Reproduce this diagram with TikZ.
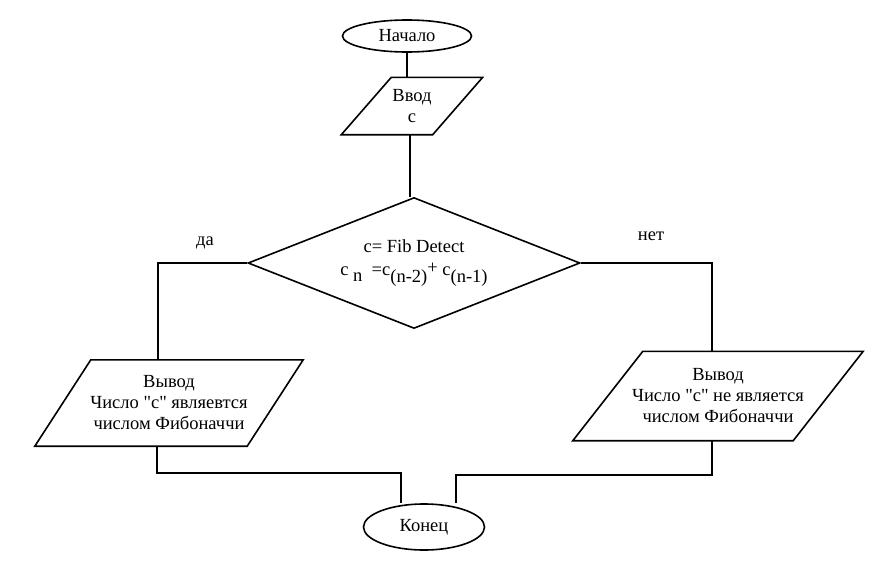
\documentclass[tikz,border=0pt]{standalone}
\usepackage{fontspec}
\setmainfont{Liberation Serif}
\usetikzlibrary{shapes.geometric}

\tikzset{
    flow/.style={line width=1.6pt},
    term/.style={ellipse, draw, line width=1.6pt, inner sep=0pt},
    iotext/.style={inner sep=0pt, align=center},
    decide/.style={diamond, draw, line width=1.6pt, inner sep=0pt, aspect=2.5,
        minimum width=332pt, minimum height=131pt, align=center},
}
% parallelogram round a named text node: #1 node, #2 shift
\newcommand{\iobox}[2]{%
    \draw[flow] ([xshift=#2]#1.north west) -- ([xshift=#2]#1.north east)
        -- ([xshift=-#2]#1.south east) -- ([xshift=-#2]#1.south west) -- cycle;}

\begin{document}
\begin{tikzpicture}[x=1pt,y=-1pt,font=\fontsize{18.5}{21}\selectfont]
    \useasboundingbox (0,0) rectangle (876,562);

    \node[term, minimum width=129pt, minimum height=32pt] (start) at (407,36) {Начало};

    \node[iotext, minimum width=91pt, minimum height=57pt] (inp) at (412,106) {Ввод\\c};
    \iobox{inp}{25pt}

    \node[decide] (dec) at (414,263) {c= Fib Detect\\[2pt]
        c\raisebox{-6pt}{ n}\ \ =c\raisebox{-7pt}{(n-2)}\raisebox{2pt}{+} c\raisebox{-7pt}{(n-1)}};

    \node[iotext, minimum width=212pt, minimum height=86pt] (outy) at (169,403)
        {Вывод\\Число \textquotedbl с\textquotedbl{} являевтся\\числом Фибоначчи};
    \iobox{outy}{28pt}

    \node[iotext, minimum width=220pt, minimum height=89pt] (outn) at (718,396)
        {Вывод\\Число \textquotedbl с\textquotedbl{} не является\\числом Фибоначчи};
    \iobox{outn}{35pt}

    \node[term, minimum width=121pt, minimum height=46pt] (end) at (424,527) {Конец};

    \node (yes) at (205,243) {да};
    \node (no) at (651,236) {нет};

    \draw[flow] (start.south) -- (start.south |- inp.north);
    \draw[flow] ([xshift=-2pt]inp.south) -- ([xshift=-2pt]inp.south |- dec.north);
    \draw[flow] (dec.west) -| ([xshift=-11pt]outy.north);
    \draw[flow] (dec.east) -| ([xshift=-6pt]outn.north);
    \draw[flow] ([xshift=-12pt]outy.south) -- ++(0,27) -| ([xshift=-23pt]end.north);
    \draw[flow] ([xshift=-6pt]outn.south) -- ++(0,34) -| ([xshift=32pt]end.north);
\end{tikzpicture}
\end{document}
